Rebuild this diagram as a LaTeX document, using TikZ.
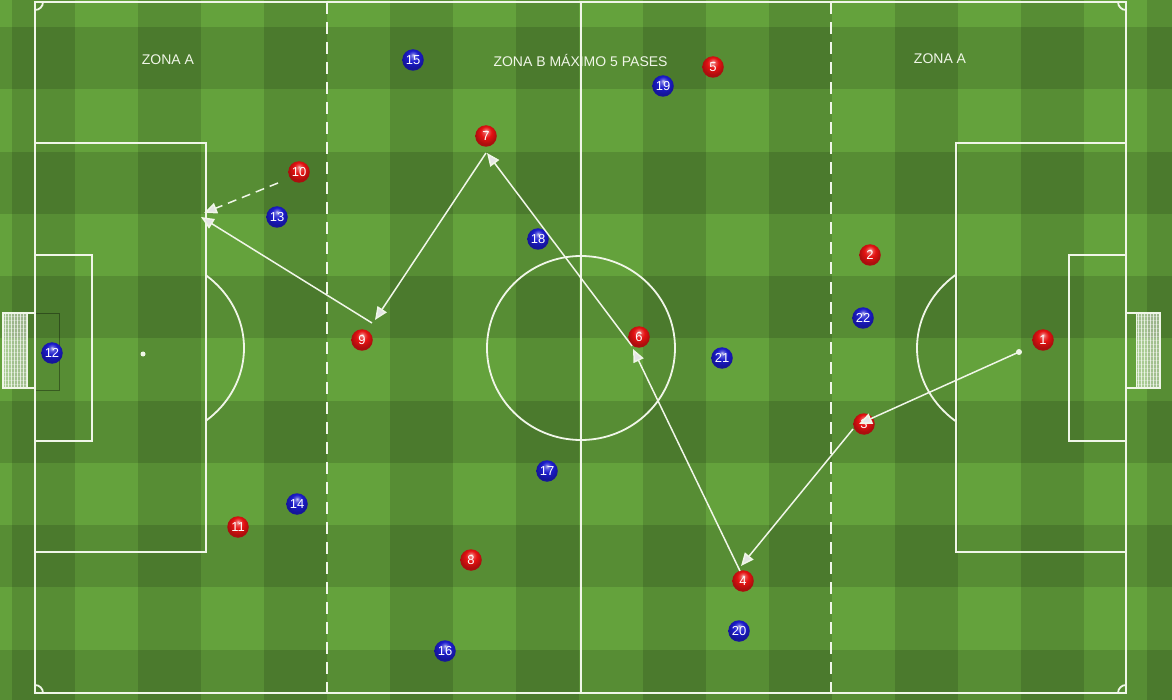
\documentclass[tikz,border=0pt]{standalone}
\usepackage{fontspec}
\setmainfont{Liberation Sans}
\usetikzlibrary{arrows.meta}
\definecolor{grass}{RGB}{100,162,60}
\definecolor{chalk}{RGB}{240,246,232}
\definecolor{redball}{RGB}{228,18,18}
\definecolor{blueball}{RGB}{28,28,205}
\pgfdeclareradialshading{redsh}{\pgfpoint{0bp}{12bp}}{color(0bp)=(redball!25!white); color(6bp)=(redball!75!white); color(13bp)=(redball); color(25bp)=(redball!75!black); color(50bp)=(redball!75!black)}
\pgfdeclareradialshading{bluesh}{\pgfpoint{0bp}{12bp}}{color(0bp)=(blueball!25!white); color(6bp)=(blueball!75!white); color(13bp)=(blueball); color(25bp)=(blueball!75!black); color(50bp)=(blueball!75!black)}
\begin{document}
\begin{tikzpicture}[x=1pt,y=-1pt,
  pline/.style={draw=chalk, line width=1.8pt},
  zoneline/.style={draw=chalk, line width=2pt, dash pattern=on 12pt off 8pt},
  zonetext/.style={text=chalk, inner sep=0pt, anchor=base, font=\fontsize{14}{14}\selectfont},
  player/.style={circle, minimum size=21.5pt, inner sep=0pt, text=white, font=\fontsize{13}{13}\selectfont},
  redp/.style={player, shading=redsh},
  bluep/.style={player, shading=bluesh},
  pass/.style={draw=chalk, line width=1.5pt, -{Triangle[length=13pt,width=11pt,fill=black!10]}},
  dpass/.style={pass, dash pattern=on 9pt off 6pt},
  net/.style={draw=white, line width=0.4pt, opacity=0.7}
]
\useasboundingbox (0,0) rectangle (1172,700);
% grass
\fill[grass] (0,0) rectangle (1172,700);
\foreach \k in {0,...,9} \fill[black,opacity=0.13] ({12+126.1*\k},0) rectangle ++(63,700);
\foreach \k in {0,...,5} \fill[black,opacity=0.13] (0,{27+124.6*\k}) rectangle ++(1172,62);
% texts
\node[zonetext] (za1) at (168,65) {ZONA A};
\node[zonetext] (zb) at (580.5,67) {ZONA B MÁXIMO 5 PASES};
\node[zonetext] (za2) at (940,64) {ZONA A};
% goals
\draw[black,opacity=0.35,line width=0.8pt] (35,313) rectangle (59,390);
\fill[white,opacity=0.45] (3,313) rectangle (27,388);
\foreach \i in {5,8,...,26} \draw[net] (\i,313) -- (\i,388);
\foreach \j in {316,320,...,386} \draw[net,opacity=0.3] (3,\j) -- (27,\j);
\draw[chalk,line width=1.5pt] (35,313) -- (3,313) -- (3,388) -- (35,388);
\draw[chalk,line width=1pt] (27,313) -- (27,388);
\fill[white,opacity=0.45] (1136,313) rectangle (1160,388);
\foreach \i in {1138,1141,...,1158} \draw[net] (\i,313) -- (\i,388);
\foreach \j in {316,320,...,386} \draw[net,opacity=0.3] (1136,\j) -- (1160,\j);
\draw[chalk,line width=1.5pt] (1126,313) -- (1160,313) -- (1160,388) -- (1126,388);
\draw[chalk,line width=1pt] (1136,313) -- (1136,388);
% pitch
\draw[pline] (35,2) rectangle (1126,693);
\draw[pline] (581,2) -- (581,693);
\draw[pline] (581,348) ellipse[x radius=94, y radius=92];
\draw[pline] (35,143) rectangle (206,552);
\draw[pline] (35,255) rectangle (92,441);
\draw[pline] (956,143) rectangle (1126,552);
\draw[pline] (1069,255) rectangle (1126,441);
\fill[chalk] (143,354) circle[radius=2.5];
\begin{scope}
  \clip (206,0) rectangle (400,700);
  \draw[pline] (143,348) ellipse[x radius=101, y radius=93];
\end{scope}
\begin{scope}
  \clip (760,0) rectangle (956,700);
  \draw[pline] (1018,348) ellipse[x radius=101, y radius=93];
\end{scope}
\begin{scope}
  \clip (35,2) rectangle (1126,693);
  \foreach \c in {(35,2),(1126,2),(35,693),(1126,693)} \draw[pline] \c circle[radius=8];
\end{scope}
\draw[zoneline] (327,2) -- (327,693);
\draw[zoneline] (831,2) -- (831,693);
% players red
\node[redp] (r1) at (1043,340) {1};
\node[redp] (r2) at (870,255) {2};
\node[redp] (r3) at (864,424) {3};
\node[redp] (r4) at (743,581) {4};
\node[redp] (r5) at (713,67) {5};
\node[redp] (r6) at (639,337) {6};
\node[redp] (r7) at (486,136) {7};
\node[redp] (r8) at (471,560) {8};
\node[redp] (r9) at (362,340) {9};
\node[redp] (r10) at (299,172) {10};
\node[redp] (r11) at (238,527) {11};
% players blue
\node[bluep] (b12) at (52,353) {12};
\node[bluep] (b13) at (277,217) {13};
\node[bluep] (b14) at (297,504) {14};
\node[bluep] (b15) at (413,60) {15};
\node[bluep] (b16) at (445,651) {16};
\node[bluep] (b17) at (547,471) {17};
\node[bluep] (b18) at (538,239) {18};
\node[bluep] (b19) at (663,86) {19};
\node[bluep] (b20) at (739,631) {20};
\node[bluep] (b21) at (722,358) {21};
\node[bluep] (b22) at (863,318) {22};
% pass points
\coordinate (s1) at (1019,352);
\coordinate (e1) at (859,424);
\coordinate (s2) at (853,429);
\coordinate (e2) at (741,566);
\coordinate (s3) at (740,571);
\coordinate (e3) at (633,349);
\coordinate (s4) at (632,346);
\coordinate (e4) at (487,153);
\coordinate (s5) at (486,153);
\coordinate (e5) at (375,320);
\coordinate (s6) at (372,323);
\coordinate (e6) at (201,217);
\coordinate (s7) at (278,183);
\coordinate (e7) at (204,213);
\fill[chalk] (s1) circle[radius=3];
\draw[pass] (s1) -- (e1);
\draw[pass] (s2) -- (e2);
\draw[pass] (s3) -- (e3);
\draw[pass] (s4) -- (e4);
\draw[pass] (s5) -- (e5);
\draw[pass] (s6) -- (e6);
\draw[dpass] (s7) -- (e7);
\end{tikzpicture}
\end{document}
